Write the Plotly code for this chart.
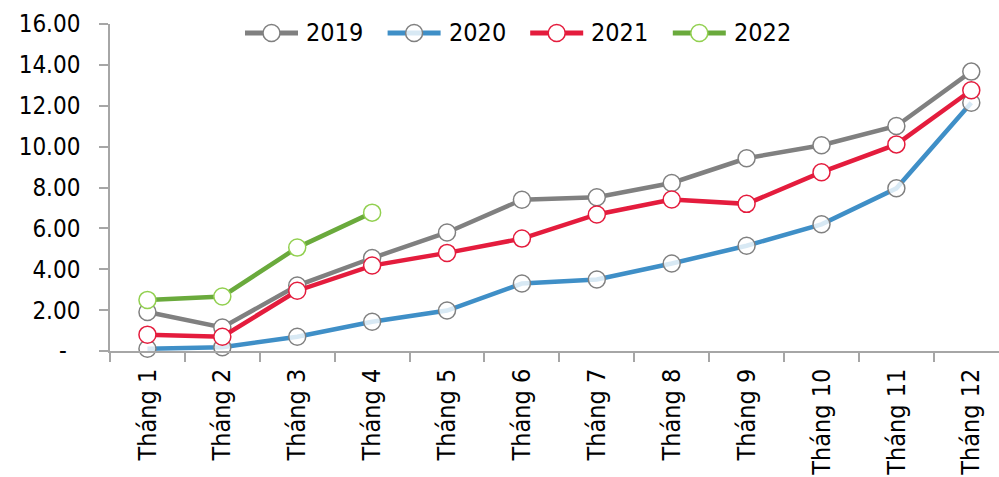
import plotly.graph_objects as go

# Monthly cumulative values by year
months = ["Tháng 1", "Tháng 2", "Tháng 3", "Tháng 4", "Tháng 5", "Tháng 6",
          "Tháng 7", "Tháng 8", "Tháng 9", "Tháng 10", "Tháng 11", "Tháng 12"]
y2019 = [1.91, 1.15, 3.20, 4.55, 5.80, 7.40, 7.52, 8.22, 9.43, 10.07, 11.01, 13.67]
y2020 = [0.11, 0.18, 0.70, 1.43, 1.98, 3.30, 3.50, 4.28, 5.15, 6.20, 7.96, 12.15]
y2021 = [0.80, 0.70, 2.95, 4.18, 4.80, 5.50, 6.68, 7.41, 7.20, 8.75, 10.11, 12.76]
y2022 = [2.50, 2.67, 5.06, 6.77]

y_ticks = [0, 2, 4, 6, 8, 10, 12, 14, 16]
y_tick_text = ["-\u00a0\u00a0"] + [f"{v:.2f}" for v in y_ticks[1:]]

FONT = "DejaVu Sans Condensed, DejaVu Sans, sans-serif"
AXIS_GREY = "#a6a6a6"

W, H = 999, 477
ML, MR, MT, MB = 110, 0, 24, 126
PW, PH = W - ML - MR, H - MT - MB

series = [
    ("2019", y2019, "#808080", "#808080", "white"),
    ("2020", y2020, "#3f8fc7", "#808080", "rgba(255,255,255,0.8)"),
    ("2021", y2021, "#e41c3d", "#e41c3d", "white"),
    ("2022", y2022, "#6aaa3c", "#92d050", "white"),
]


def px_x(px):
    return (px - ML) / PW


def px_y(py):
    return (H - MB - py) / PH


fig = go.Figure()
for name, vals, line_c, edge_c, fill_c in series:
    fig.add_trace(go.Scatter(
        x=months[:len(vals)], y=vals, name=name, mode="lines+markers",
        line=dict(color=line_c, width=4.5),
        marker=dict(symbol="circle", size=17, color=fill_c,
                    line=dict(color=edge_c, width=1.5)),
        cliponaxis=False,
    ))

# Legend row across the top: line sample, open circle, year label
leg_y = 33
leg_start, leg_step, sample_len = 245, 142.6, 53
shapes, annotations = [], []
for i, (name, _, line_c, edge_c, fill_c) in enumerate(series):
    x0 = leg_start + i * leg_step
    shapes.append(dict(type="line", xref="paper", yref="paper",
                       x0=px_x(x0), x1=px_x(x0 + sample_len),
                       y0=px_y(leg_y), y1=px_y(leg_y),
                       line=dict(color=line_c, width=5), layer="above"))
    cx = px_x(x0 + sample_len / 2)
    cy = px_y(leg_y)
    shapes.append(dict(type="circle", xref="paper", yref="paper",
                       xsizemode="pixel", ysizemode="pixel",
                       xanchor=cx, yanchor=cy,
                       x0=-8.5, x1=8.5, y0=-8.5, y1=8.5,
                       fillcolor=fill_c, line=dict(color=edge_c, width=1.5),
                       layer="above"))
    annotations.append(dict(xref="paper", yref="paper",
                            x=px_x(x0 + sample_len + 6), y=px_y(leg_y),
                            xanchor="left", yanchor="middle", showarrow=False,
                            text=name, font=dict(family=FONT, size=25, color="#000")))

fig.update_layout(
    width=W, height=H,
    margin=dict(l=ML, r=MR, t=MT, b=MB),
    paper_bgcolor="white", plot_bgcolor="white",
    font=dict(family=FONT, size=24, color="#000000"),
    showlegend=False,
    shapes=shapes, annotations=annotations,
)

fig.update_xaxes(
    type="category", categoryorder="array", categoryarray=months,
    range=[-0.5, 11.37], tickson="boundaries", ticks="outside", ticklen=9,
    tickcolor=AXIS_GREY, tickwidth=1.5, tickangle=-90,
    showline=True, linecolor=AXIS_GREY, linewidth=1.5,
    showgrid=False, zeroline=False, ticklabelstandoff=6,
    tickfont=dict(family=FONT, size=25),
)
fig.update_yaxes(
    range=[0, 16], tickvals=y_ticks, ticktext=y_tick_text,
    ticks="outside", ticklen=9, tickcolor=AXIS_GREY, tickwidth=1.5,
    showline=True, linecolor=AXIS_GREY, linewidth=1.5,
    showgrid=False, zeroline=False, ticklabelstandoff=14,
    tickfont=dict(family=FONT, size=24),
)

fig.write_html("out.html")
